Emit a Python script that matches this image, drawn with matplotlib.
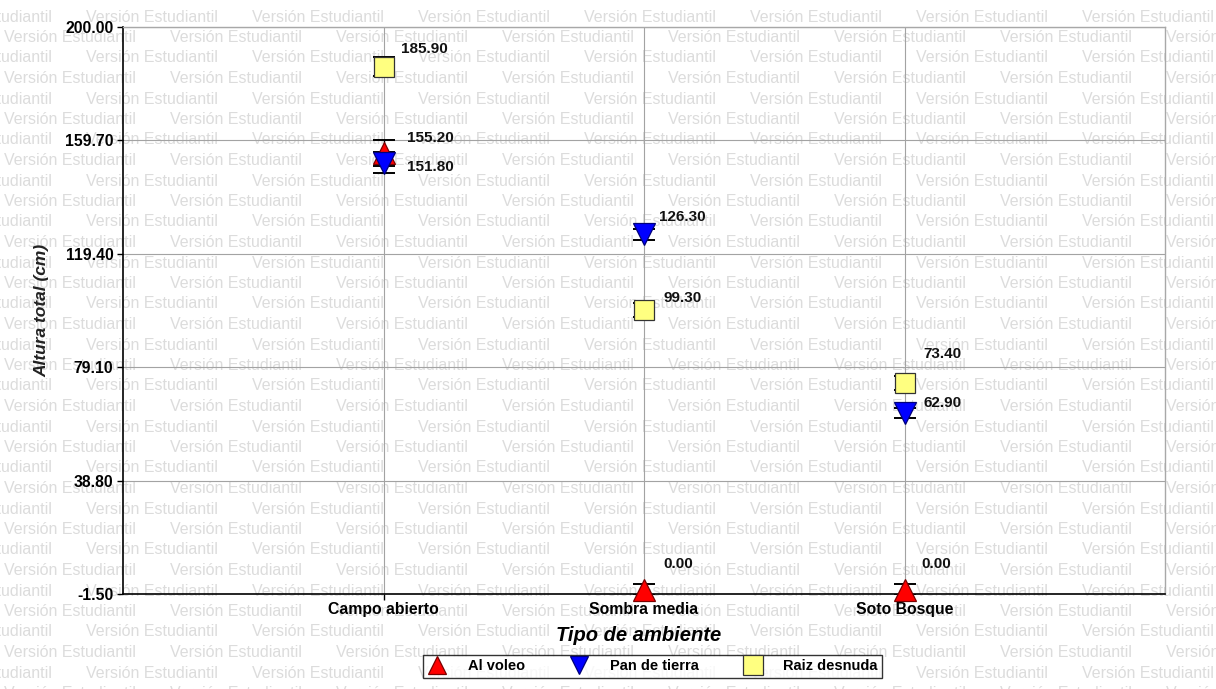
import numpy as np
import matplotlib
matplotlib.use("Agg")
import matplotlib.pyplot as plt
from matplotlib.lines import Line2D

# ---- data -------------------------------------------------------------
categories = ["Campo abierto", "Sombra media", "Soto Bosque"]
series_names = ["Al voleo", "Pan de tierra", "Raiz desnuda"]

al_voleo = [155.20, 0.00, 0.00]
pan_de_tierra = [151.80, 126.30, 62.90]
raiz_desnuda = [185.90, 99.30, 73.40]

err_al_voleo = [4.6, 2.0, 2.0]
err_pan_de_tierra = [3.7, 2.0, 1.8]
err_raiz_desnuda = [3.3, 2.5, 2.5]

y_ticks = [-1.50, 38.80, 79.10, 119.40, 159.70, 200.00]

# ---- styling ----------------------------------------------------------
W, H = 1216, 689
plt.rcParams["font.family"] = ["Liberation Sans", "DejaVu Sans"]

fig = plt.figure(figsize=(W / 100, H / 100), dpi=100)
fig.patch.set_facecolor("white")

# faint repeated watermark behind the plot
wm_text = "Versión Estudiantil"
period = 166
row_gap = 20.5
for r in range(int(H / row_gap) + 2):
    y_px = 17 + r * row_gap
    x0 = -80 if r % 2 == 0 else 4
    x = x0
    while x < W:
        fig.text(x / W, 1 - y_px / H, wm_text, fontsize=11.5, color="#dcdcdc",
                 ha="left", va="center", zorder=-5)
        x += period

L, R, B, T = 123, 1165, 594, 27
ax = fig.add_axes([L / W, 1 - B / H, (R - L) / W, (B - T) / H])
ax.patch.set_alpha(0)

x = np.arange(1, len(categories) + 1)

series = [
    (al_voleo, err_al_voleo, "^", "#ff0000", "#7a0000"),
    (pan_de_tierra, err_pan_de_tierra, "v", "#0000ff", "#00007a"),
    (raiz_desnuda, err_raiz_desnuda, "s", "#ffff80", "#333333"),
]

for i, (vals, errs, mk, fc, ec) in enumerate(series):
    ax.errorbar(x, vals, yerr=errs, fmt="none", ecolor="black",
                elinewidth=1.0, capsize=8, capthick=1.4, zorder=3 + i)
    ax.plot(x, vals, linestyle="none", marker=mk, markersize=15.5 if mk != "s" else 15,
            markerfacecolor=fc, markeredgecolor=ec, markeredgewidth=0.9,
            zorder=6 + i, clip_on=False)

# value labels (offsets in pixels, per series and category)
label_offsets = [
    [(24, 15), (19, 26), (17, 26)],
    [(24, -4), (15, 17), (19, 10)],
    [(18, 18), (19, 12), (19, 29)],
]
for (vals, _, _, _, _), offs in zip(series, label_offsets):
    for xi, v, (dx, dy) in zip(x, vals, offs):
        ax.annotate(f"{v:.2f}", (xi, v), xytext=(dx, dy),
                    textcoords="offset pixels", ha="left", va="center",
                    fontsize=11, fontweight="bold", color="#111111",
                    zorder=10)

ax.set_xlim(0, 4)
ax.set_ylim(-1.5, 200)
ax.set_xticks(x)
ax.set_xticklabels(categories, fontsize=11.3, fontweight="bold")
ax.set_yticks(y_ticks)
ax.set_yticklabels([f"{t:.2f}" for t in y_ticks], fontsize=11.3, fontweight="bold")

ax.tick_params(axis="both", direction="out", length=4, width=1, color="black", pad=3)
ax.tick_params(axis="x", pad=2)

ax.grid(True, color="#a3a3a3", linewidth=0.8, zorder=0)
ax.set_axisbelow(True)

for side in ("top", "right"):
    ax.spines[side].set_color("#a8a8a8")
    ax.spines[side].set_linewidth(1.0)
for side in ("left", "bottom"):
    ax.spines[side].set_color("black")
    ax.spines[side].set_linewidth(1.2)

ax.set_xlabel("Tipo de ambiente", fontsize=14.5, fontweight="bold", style="italic")
ax.xaxis.set_label_coords(0.495, -0.074)
ax.xaxis.label.set_va("center")
ax.set_ylabel("Altura total (cm)", fontsize=12.5, fontweight="bold", style="italic",
              color="#222222")
ax.yaxis.set_label_coords(-(L - 42) / (R - L), 0.5)
ax.yaxis.label.set_va("center")

handles = [
    Line2D([], [], linestyle="none", marker=mk, markersize=13 if mk != "s" else 14,
           markerfacecolor=fc, markeredgecolor=ec, markeredgewidth=0.9)
    for (_, _, mk, fc, ec) in series
]
leg = fig.legend(handles, series_names, loc="center",
                 bbox_to_anchor=((420 + 885) / 2 / W, 1 - 666.5 / H),
                 ncol=3, frameon=True, fancybox=False, edgecolor="black",
                 prop={"size": 10.5, "weight": "bold"}, handletextpad=1.4,
                 columnspacing=3.0, borderpad=0.3, handlelength=1.4,
                 borderaxespad=0)
leg.get_frame().set_linewidth(1.0)

fig.savefig("out.png", dpi=100, facecolor="white")
